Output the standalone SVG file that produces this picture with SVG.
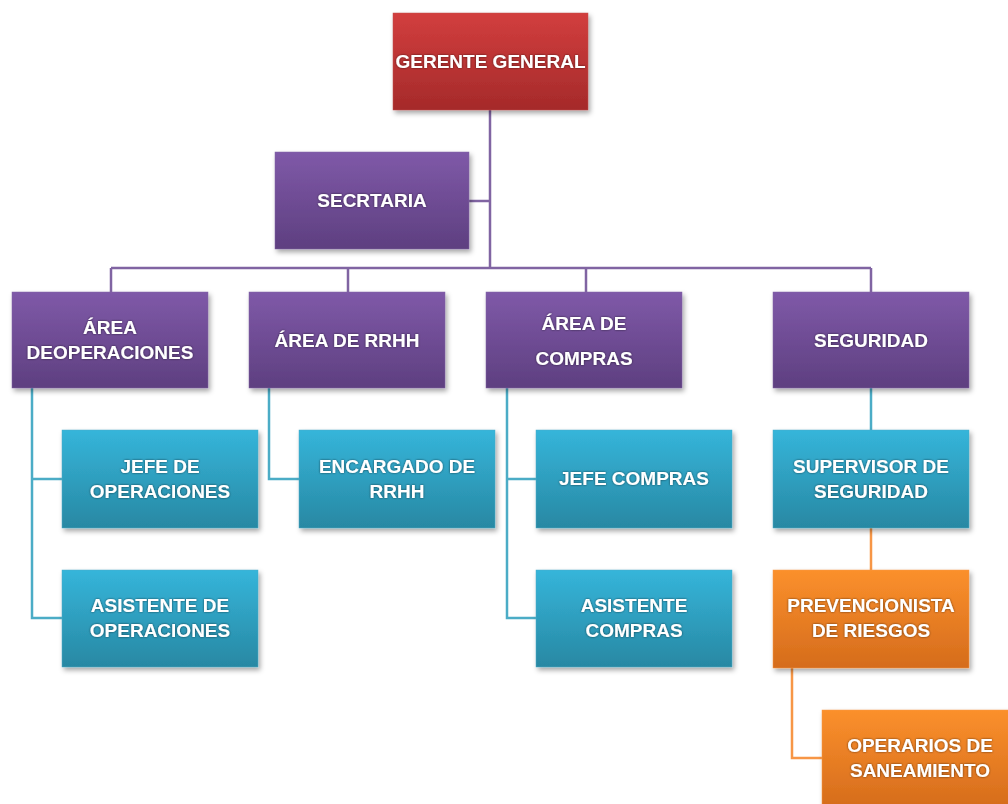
<svg xmlns="http://www.w3.org/2000/svg" width="1008" height="804" viewBox="0 0 1008 804">
<defs>
<linearGradient id="gRed" x1="0" y1="0" x2="0" y2="1"><stop offset="0" stop-color="#d23e3e"/><stop offset="1" stop-color="#a52a2a"/></linearGradient>
<linearGradient id="gPur" x1="0" y1="0" x2="0" y2="1"><stop offset="0" stop-color="#7f59a8"/><stop offset="1" stop-color="#5e3f80"/></linearGradient>
<linearGradient id="gBlu" x1="0" y1="0" x2="0" y2="1"><stop offset="0" stop-color="#35b5da"/><stop offset="1" stop-color="#2888a3"/></linearGradient>
<linearGradient id="gOra" x1="0" y1="0" x2="0" y2="1"><stop offset="0" stop-color="#fb902c"/><stop offset="1" stop-color="#d56c1c"/></linearGradient>
<filter id="sh" x="-10%" y="-10%" width="125%" height="130%"><feDropShadow dx="2" dy="3" stdDeviation="2.5" flood-color="#000" flood-opacity="0.35"/></filter>
<filter id="tsh" x="-10%" y="-30%" width="120%" height="160%"><feDropShadow dx="0" dy="0" stdDeviation="1.2" flood-color="#000" flood-opacity="0.6"/></filter>
</defs>
<style>
.red{fill:url(#gRed);stroke:#c0504d;stroke-width:0.5;filter:url(#sh)}
.pur{fill:url(#gPur);stroke:#8064a2;stroke-width:0.5;filter:url(#sh)}
.blu{fill:url(#gBlu);stroke:#4bacc6;stroke-width:0.5;filter:url(#sh)}
.ora{fill:url(#gOra);stroke:#f79646;stroke-width:0.5;filter:url(#sh)}
text{font-family:"Liberation Sans",Arial,sans-serif;font-weight:bold;font-size:19px;fill:#fff;text-anchor:middle;filter:url(#tsh)}
.lp{fill:none;stroke:#8064a2;stroke-width:2.5}
.lb{fill:none;stroke:#4bacc6;stroke-width:2.5}
.lo{fill:none;stroke:#f79646;stroke-width:2.5}
</style>
<g id="connectors">
<path class="lp" d="M490 110V268M469 201H490M111 268H871M111 268V292M348 268V292M586 268V292M871 268V292"/>
<path class="lb" d="M32 388V618H62M32 479H62M269 388V479H299M507 388V618H536M507 479H536M871 388V430"/>
<path class="lo" d="M871 528V570M792 668V758H822"/>
</g>
<g id="gerente"><rect class="red" x="393" y="13" width="195" height="97"/><text x="490.5" y="68">GERENTE GENERAL</text></g>
<g id="secretaria"><rect class="pur" x="275" y="152" width="194" height="97"/><text x="372" y="207">SECRTARIA</text></g>
<g id="area-operaciones"><rect class="pur" x="12" y="292" width="196" height="96"/><text x="110" y="334">ÁREA</text><text x="110" y="359">DEOPERACIONES</text></g>
<g id="area-rrhh"><rect class="pur" x="249" y="292" width="196" height="96"/><text x="347" y="347">ÁREA DE RRHH</text></g>
<g id="area-compras"><rect class="pur" x="486" y="292" width="196" height="96"/><text x="584" y="330">ÁREA DE</text><text x="584" y="365">COMPRAS</text></g>
<g id="seguridad"><rect class="pur" x="773" y="292" width="196" height="96"/><text x="871" y="347">SEGURIDAD</text></g>
<g id="jefe-operaciones"><rect class="blu" x="62" y="430" width="196" height="98"/><text x="160" y="473">JEFE DE</text><text x="160" y="498">OPERACIONES</text></g>
<g id="asistente-operaciones"><rect class="blu" x="62" y="570" width="196" height="97"/><text x="160" y="612">ASISTENTE DE</text><text x="160" y="637">OPERACIONES</text></g>
<g id="encargado-rrhh"><rect class="blu" x="299" y="430" width="196" height="98"/><text x="397" y="473">ENCARGADO DE</text><text x="397" y="498">RRHH</text></g>
<g id="jefe-compras"><rect class="blu" x="536" y="430" width="196" height="98"/><text x="634" y="485">JEFE COMPRAS</text></g>
<g id="asistente-compras"><rect class="blu" x="536" y="570" width="196" height="97"/><text x="634" y="612">ASISTENTE</text><text x="634" y="637">COMPRAS</text></g>
<g id="supervisor-seguridad"><rect class="blu" x="773" y="430" width="196" height="98"/><text x="871" y="473">SUPERVISOR DE</text><text x="871" y="498">SEGURIDAD</text></g>
<g id="prevencionista"><rect class="ora" x="773" y="570" width="196" height="98"/><text x="871" y="612">PREVENCIONISTA</text><text x="871" y="637">DE RIESGOS</text></g>
<g id="operarios"><rect class="ora" x="822" y="710" width="196" height="98"/><text x="920" y="752">OPERARIOS DE</text><text x="920" y="777">SANEAMIENTO</text></g>
</svg>
